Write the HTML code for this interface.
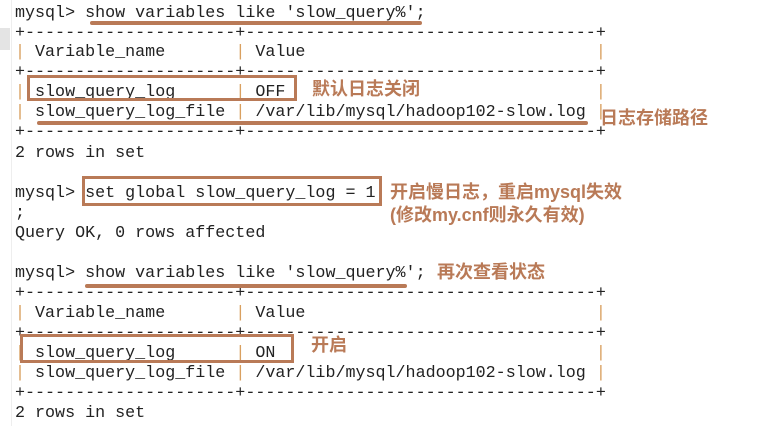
<!DOCTYPE html>
<html><head><meta charset="utf-8"><style>
html,body{margin:0;padding:0;background:#fff;width:765px;height:426px;overflow:hidden;position:relative}
.l{position:absolute;left:15px;height:20px;line-height:20px;font-family:"Liberation Mono",monospace;font-size:16.7px;color:#222;white-space:pre}
.p{color:#d9a060}
.u{position:absolute;height:4px;background:#b97a57;border-radius:2px}
.b{position:absolute;border:3px solid #b97a57;box-sizing:border-box}
.t{position:absolute;font-family:"Liberation Sans","Noto Sans CJK SC",sans-serif;font-weight:bold;font-size:18px;color:#b97a57;white-space:nowrap;line-height:22px}
</style></head><body>
<div style="position:absolute;left:0;top:28px;width:10px;height:22px;background:#e4e4e4"></div>
<div style="position:absolute;left:11px;top:0;width:1px;height:426px;background:#eee"></div>
<div class="l" style="top:4px">mysql&gt; show variables like 'slow_query%';</div>
<div class="l" style="top:24px">+---------------------+-----------------------------------+</div>
<div class="l" style="top:43px"><span class="p">|</span> Variable_name       <span class="p">|</span> Value                             <span class="p">|</span></div>
<div class="l" style="top:63px">+---------------------+-----------------------------------+</div>
<div class="l" style="top:83px"><span class="p">|</span> slow_query_log      <span class="p">|</span> OFF                               <span class="p">|</span></div>
<div class="l" style="top:103px"><span class="p">|</span> slow_query_log_file <span class="p">|</span> /var/lib/mysql/hadoop102-slow.log <span class="p">|</span></div>
<div class="l" style="top:123px">+---------------------+-----------------------------------+</div>
<div class="l" style="top:144px">2 rows in set</div>
<div class="l" style="top:184px">mysql&gt; set global slow_query_log = 1</div>
<div class="l" style="top:204px">;</div>
<div class="l" style="top:224px">Query OK, 0 rows affected</div>
<div class="l" style="top:264px">mysql&gt; show variables like 'slow_query%';</div>
<div class="l" style="top:284px">+---------------------+-----------------------------------+</div>
<div class="l" style="top:304px"><span class="p">|</span> Variable_name       <span class="p">|</span> Value                             <span class="p">|</span></div>
<div class="l" style="top:324px">+---------------------+-----------------------------------+</div>
<div class="l" style="top:344px"><span class="p">|</span> slow_query_log      <span class="p">|</span> ON                                <span class="p">|</span></div>
<div class="l" style="top:364px"><span class="p">|</span> slow_query_log_file <span class="p">|</span> /var/lib/mysql/hadoop102-slow.log <span class="p">|</span></div>
<div class="l" style="top:384px">+---------------------+-----------------------------------+</div>
<div class="l" style="top:404px">2 rows in set</div>

<div class="u" style="left:90px;top:21px;width:332px"></div>
<div class="b" style="left:27px;top:75px;width:270px;height:26px"></div>
<div class="u" style="left:37px;top:121px;width:551px"></div>
<div class="b" style="left:82px;top:176px;width:300px;height:30px"></div>
<div class="u" style="left:85px;top:284px;width:322px"></div>
<div class="b" style="left:20px;top:334px;width:274px;height:29px"></div>

<div class="t" style="left:312px;top:78px">默认日志关闭</div>
<div class="t" style="left:600px;top:107px">日志存储路径</div>
<div class="t" style="left:390px;top:181px">开启慢日志，重启mysql失效</div>
<div class="t" style="left:390px;top:204px">(修改my.cnf则永久有效)</div>
<div class="t" style="left:437px;top:261px">再次查看状态</div>
<div class="t" style="left:311px;top:334px">开启</div>
</body></html>
